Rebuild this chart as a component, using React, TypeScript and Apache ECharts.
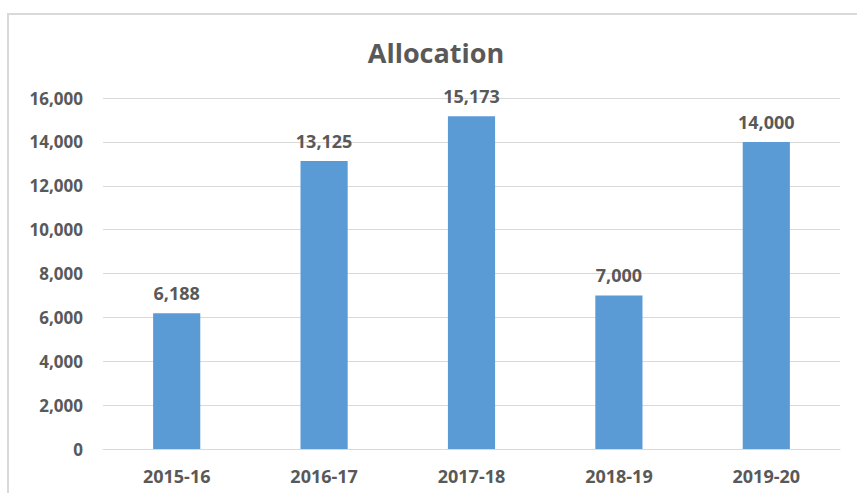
import React, { useEffect, useRef } from "react";
import * as echarts from "echarts";

const categories = ["2015-16", "2016-17", "2017-18", "2018-19", "2019-20"];
const allocation = [6188, 13125, 15173, 7000, 14000];
const chartTitle = "Allocation";
const yMin = 0;
const yMax = 16000;
const yStep = 2000;

const fmt = (v: number) => v.toLocaleString("en-US");
const FONT = "'Open Sans', 'Noto Sans', sans-serif";
const TEXT = "#595959";

export default function App() {
  const ref = useRef<HTMLDivElement>(null);
  useEffect(() => {
    if (!ref.current) return;
    const chart = echarts.init(ref.current, null, { renderer: "svg" });
    chart.setOption({
      animation: false,
      backgroundColor: "#ffffff",
      graphic: [
        {
          type: "rect",
          shape: { x: 8, y: 14, width: 880, height: 520 },
          style: { fill: "none", stroke: "#d9d9d9", lineWidth: 2 },
          silent: true,
          z: -1,
        },
        {
          type: "text",
          x: 436,
          y: 52,
          style: {
            text: chartTitle,
            align: "center",
            verticalAlign: "middle",
            fill: TEXT,
            font: `bold 27px ${FONT}`,
          },
        },
      ],
      grid: { left: 103, right: 17, top: 98, bottom: 44, containLabel: false },
      xAxis: {
        type: "category",
        data: categories,
        axisLine: { show: true, lineStyle: { color: "#d9d9d9", width: 1 } },
        axisTick: { show: false },
        axisLabel: {
          color: TEXT,
          fontFamily: FONT,
          fontWeight: "bold",
          fontSize: 18,
          margin: 18,
        },
      },
      yAxis: {
        type: "value",
        min: yMin,
        max: yMax,
        interval: yStep,
        axisLine: { show: false },
        axisTick: { show: false },
        splitLine: { lineStyle: { color: "#d9d9d9", width: 1 } },
        axisLabel: {
          color: TEXT,
          fontFamily: FONT,
          fontWeight: "bold",
          fontSize: 17,
          margin: 20,
          formatter: (v: number) => fmt(v),
        },
      },
      series: [
        {
          type: "bar",
          data: allocation,
          barWidth: "32%",
          itemStyle: { color: "#5b9bd5" },
          label: {
            show: true,
            position: "top",
            distance: 11,
            color: TEXT,
            fontFamily: FONT,
            fontWeight: "bold",
            fontSize: 18,
            formatter: (p: any) => fmt(p.value),
          },
        },
      ],
    });
    return () => chart.dispose();
  }, []);
  return (
    <div
      ref={ref}
      style={{ position: "fixed", left: 0, top: 0, width: 857, height: 493 }}
    />
  );
}
